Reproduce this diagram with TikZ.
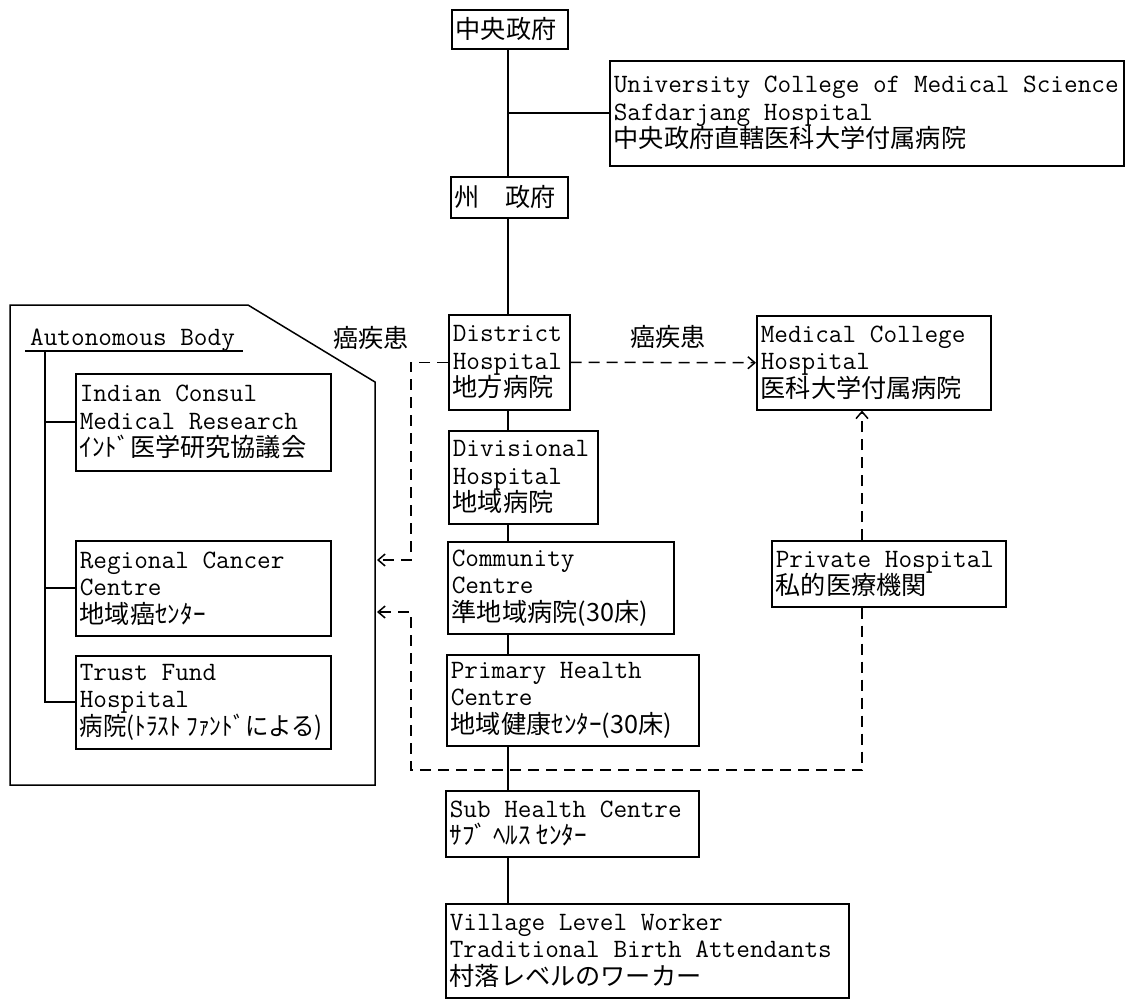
\documentclass[tikz,border=0pt]{standalone}
\usepackage{fontspec}
\usepackage{graphicx}
\newfontfamily\jp[Scale=0.95]{Noto Sans CJK JP}
\usetikzlibrary{arrows.meta}
\newcommand\bxfont{\fontsize{26.5}{27.5}\selectfont\ttfamily}
\tikzset{
  box/.style={draw, line width=1.5pt, anchor=north west, inner xsep=4pt, inner ysep=0pt, align=left, font=\bxfont,
    execute at begin node={\spaceskip=0pt\xspaceskip=0pt\relax}},
  ln/.style={line width=1.6pt},
  dsh/.style={line width=1.5pt, dash pattern=on 11pt off 7pt},
  arr/.style={-{Straight Barb[length=7pt,width=12pt,line width=1.5pt]}},
  lbl/.style={font=\bxfont\jp, inner sep=0pt}
}
\begin{document}
\begin{tikzpicture}[x=1pt,y=-1pt]
\useasboundingbox (0,0) rectangle (1132,999);
\coordinate (spine) at (508,0);

% central column
\node[box, text width=108pt, minimum height=39pt] (cg) at (451,9) {\jp 中央政府};
\node[box, text width=109pt, minimum height=41pt] (sg) at (450,176) {\jp 州　政府};
\node[box, text width=506pt, minimum height=105pt] (ucms) at (609,60)
  {University College of Medical Science\\Safdarjang Hospital\\{\jp 中央政府直轄医科大学付属病院}};
\node[box, text width=113pt, minimum height=95pt] (district) at (448,314)
  {District\\Hospital\\{\jp 地方病院}};
\node[box, text width=226pt, minimum height=94pt] (mch) at (756,315)
  {Medical College\\Hospital\\{\jp 医科大学付属病院}};
\node[box, text width=141pt, minimum height=93pt] (divisional) at (448,430)
  {Divisional\\Hospital\\{\jp 地域病院}};
\node[box, text width=218pt, minimum height=92pt] (community) at (447,541)
  {Community\\Centre\\{\jp 準地域病院(30床)}};
\node[box, text width=226pt, minimum height=66pt] (private) at (771,540)
  {Private Hospital\\{\jp 私的医療機関}};
\node[box, text width=244pt, minimum height=91pt] (primary) at (446,654)
  {Primary Health\\Centre\\{\jp 地域健康ｾﾝﾀｰ(30床)}};
\node[box, text width=245pt, minimum height=66pt] (sub) at (445,790)
  {Sub Health Centre\\{\jp ｻﾌﾞ ﾍﾙｽ ｾﾝﾀｰ}};
\node[box, text width=395pt, minimum height=94pt] (village) at (445,903)
  {Village Level Worker\\Traditional Birth Attendants\\{\jp 村落レベルのワーカー}};

% spine
\draw[ln] (spine |- cg.south) -- (spine |- sg.north);
\draw[ln] (spine |- ucms.west) -- (ucms.west);
\draw[ln] (spine |- sg.south) -- (spine |- district.north);
\draw[ln] (spine |- district.south) -- (spine |- divisional.north);
\draw[ln] (spine |- divisional.south) -- (spine |- community.north);
\draw[ln] (spine |- community.south) -- (spine |- primary.north);
\draw[ln] (spine |- primary.south) -- (spine |- sub.north);
\draw[ln] (spine |- sub.south) -- (spine |- village.north);

% autonomous body group
\draw[line width=1.5pt] (10,305) -- (248,305) -- (375,382) -- (375,785) -- (10,785) -- cycle;
\node[anchor=base west, font=\bxfont, inner sep=0pt] (abody) at (30,345) {Autonomous Body};
\draw[line width=1.5pt] ([xshift=-5pt]abody.south west) -- ([xshift=8pt]abody.south east);
\coordinate (abx) at (45,351);
\node[box, text width=247pt, minimum height=97pt] (indian) at (75,373)
  {Indian Consul\\Medical Research\\{\jp ｲﾝﾄﾞ医学研究協議会}};
\node[box, text width=247pt, minimum height=95pt] (regional) at (75,540)
  {Regional Cancer\\Centre\\{\jp 地域癌ｾﾝﾀｰ}};
\node[box, text width=247pt, minimum height=93pt] (trust) at (75,655)
  {Trust Fund\\Hospital\\\scalebox{0.93}[1]{\jp 病院(ﾄﾗｽﾄ ﾌｧﾝﾄﾞによる)}};
\draw[ln] (abx) |- (trust.west);
\draw[ln] (abx |- indian.west) -- (indian.west);
\draw[ln] (abx |- regional.west) -- (regional.west);

% labels
\node[lbl] (lblL) at (371,338) {癌疾患};
\node[lbl] (lblR) at (668,337) {癌疾患};

% dashed referrals
\coordinate (dl1) at (411,560);
\coordinate (in1) at (377,560);
\coordinate (dr) at (862,770);
\coordinate (dl2) at (411,770);
\coordinate (in2) at (377,612);
\draw[dsh, arr] (district.west) -| (dl1) -- (in1);
\draw[dsh, arr] (district.east) -- (mch.west);
\draw[dsh, arr] (private.south -| dr) -- (dr) -- (dl2) |- (in2);
\draw[dsh, arr] (private.north -| dr) -- (mch.south -| dr);
\end{tikzpicture}
\end{document}
